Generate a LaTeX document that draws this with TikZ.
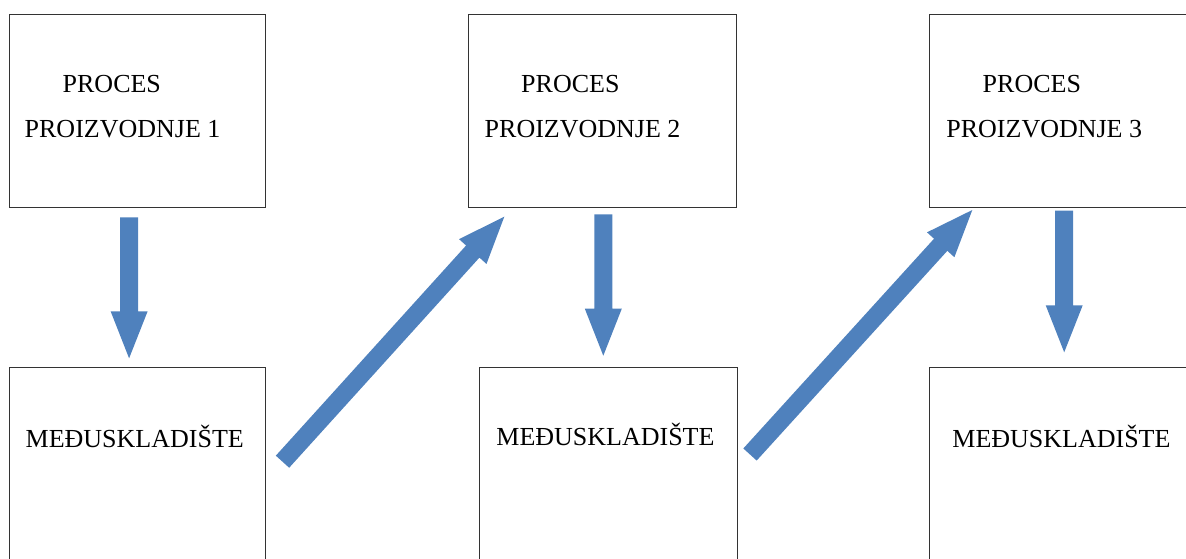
\documentclass[tikz,border=0pt]{standalone}
\usepackage{fontspec}
\setmainfont{Liberation Serif}
\usetikzlibrary{calc}

\definecolor{pfeilblau}{RGB}{79,129,189}
% Blockpfeil von #1 (Ende) nach #2 (Spitze).
\newcommand{\blockpfeil}[2]{%
    \coordinate (h) at ($(#2)!47pt!(#1)$);
    \fill[color=pfeilblau] ($(#1)!9pt!90:(#2)$) -- ($(h)!9pt!90:(#2)$) -- ($(h)!18.5pt!90:(#2)$) -- (#2)
        -- ($(h)!18.5pt!-90:(#2)$) -- ($(h)!9pt!-90:(#2)$) -- ($(#1)!9pt!-90:(#2)$) -- cycle;
}

\begin{document}
\begin{tikzpicture}[x=1pt, y=-1pt,
    kasten/.style={draw=black!80, line width=1pt, inner sep=0pt},
    schrift/.style={anchor=base west, inner sep=0pt, font=\fontsize{26}{30}\selectfont}]
    \useasboundingbox (0,0) rectangle (1186,558);
    \clip (0,0) rectangle (1186,558);

    % Kaesten.
    \node[kasten, minimum width=256.4pt, minimum height=193.5pt] (p1) at (137.5,110.75) {};
    \node[kasten, minimum width=268.4pt, minimum height=193.5pt] (p2) at (602.5,110.75) {};
    \node[kasten, minimum width=265.7pt, minimum height=193.5pt] (p3) at (1062.15,110.75) {};
    \node[kasten, minimum width=256.4pt, minimum height=252.3pt] (m1) at (137.5,493.85) {};
    \node[kasten, minimum width=258.7pt, minimum height=253pt] (m2) at (608.35,493.5) {};
    \node[kasten, minimum width=265.7pt, minimum height=252.3pt] (m3) at (1062.15,493.85) {};

    % Beschriftung.
    \node[schrift] (t1a) at (62.5,92.7) {PROCES};
    \node[schrift] (t1b) at (24.5,137.7) {PROIZVODNJE 1};
    \node[schrift] (t2a) at (521,92.7) {PROCES};
    \node[schrift] (t2b) at (484.5,137.7) {PROIZVODNJE 2};
    \node[schrift] (t3a) at (982.5,92.7) {PROCES};
    \node[schrift] (t3b) at (946.2,137.7) {PROIZVODNJE 3};
    \node[schrift] (t4) at (25.5,447) {MEĐUSKLADIŠTE};
    \node[schrift] (t5) at (496.2,445.5) {MEĐUSKLADIŠTE};
    \node[schrift] (t6) at (952.2,447) {MEĐUSKLADIŠTE};

    % Pfeile.
    \coordinate (a1) at (129.2,217.3);
    \coordinate (b1) at (129.1,358.3);
    \coordinate (a2) at (603.3,214.3);
    \coordinate (b2) at (603.3,355.7);
    \coordinate (a3) at (1064.2,210.7);
    \coordinate (b3) at (1064.2,352.3);
    \coordinate (c1) at (282.5,461.7);
    \coordinate (d1) at (504.3,216.7);
    \coordinate (c2) at (750,454.5);
    \coordinate (d2) at (972.3,210);
    \blockpfeil{a1}{b1}
    \blockpfeil{a2}{b2}
    \blockpfeil{a3}{b3}
    \blockpfeil{c1}{d1}
    \blockpfeil{c2}{d2}
\end{tikzpicture}
\end{document}
